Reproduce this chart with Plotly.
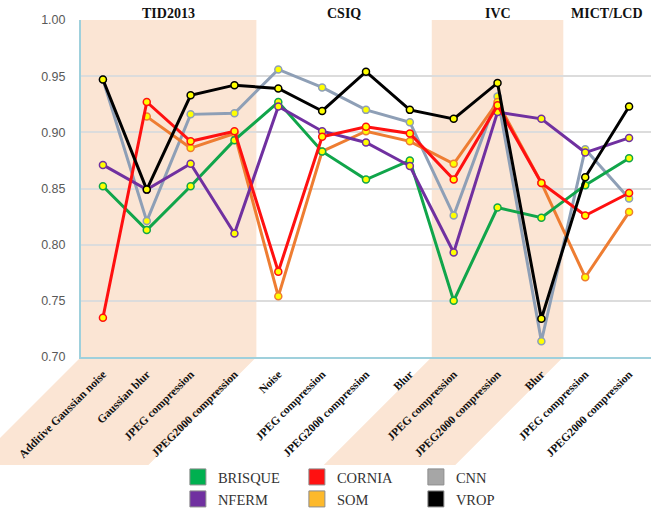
import plotly.graph_objects as go

categories = ["Additive Gaussian noise", "Gaussian blur", "JPEG compression", "JPEG2000 compression",
              "Noise", "JPEG compression", "JPEG2000 compression", "Blur",
              "JPEG compression", "JPEG2000 compression", "Blur",
              "JPEG compression", "JPEG2000 compression"]
group_names = ["TID2013", "CSIQ", "IVC", "MICT/LCD"]
group_sizes = [4, 4, 3, 2]
shaded_groups = [0, 2]

brisque = [0.852, 0.813, 0.852, 0.893, 0.927, 0.883, 0.858, 0.875, 0.750, 0.833, 0.824, 0.853, 0.877]
nferm = [0.871, 0.849, 0.872, 0.810, 0.923, 0.901, 0.891, 0.870, 0.793, 0.918, 0.912, 0.882, 0.895]
cornia = [0.735, 0.927, 0.892, 0.901, 0.776, 0.896, 0.905, 0.899, 0.858, 0.924, 0.855, 0.826, 0.846]
som = [None, 0.914, 0.886, 0.899, 0.754, 0.883, 0.901, 0.892, 0.872, 0.927, 0.855, 0.771, 0.829]
cnn = [0.947, 0.821, 0.916, 0.917, 0.956, 0.940, 0.920, 0.909, 0.826, 0.932, 0.714, 0.885, 0.841]
vrop = [0.947, 0.849, 0.933, 0.942, 0.939, 0.919, 0.954, 0.920, 0.912, 0.944, 0.734, 0.860, 0.923]

y_ticks = [0.70, 0.75, 0.80, 0.85, 0.90, 0.95, 1.00]

x = list(range(len(categories)))

# name, values, line colour, legend colour, legend row, legend rank
series = [
    ("CNN", cnn, "#8e9fb6", "#a6a6a6", "legend", 3),
    ("SOM", som, "#ee7d32", "#fdb92b", "legend2", 2),
    ("BRISQUE", brisque, "#10a54a", "#00b050", "legend", 1),
    ("NFERM", nferm, "#7030a0", "#7030a0", "legend2", 1),
    ("CORNIA", cornia, "#ff1010", "#ff1111", "legend", 2),
    ("VROP", vrop, "#000000", "#000000", "legend2", 3),
]

fig = go.Figure()
for name, vals, lc, legc, leg, rank in series:
    fig.add_trace(go.Scatter(
        x=x, y=vals, mode="lines+markers", name=name, showlegend=False,
        line=dict(color=lc, width=3),
        marker=dict(size=7, color="#ffff00", line=dict(color=lc, width=1.5)),
        connectgaps=False, hoverinfo="skip",
    ))
for name, vals, lc, legc, leg, rank in series:
    fig.add_trace(go.Scatter(
        x=[None], y=[None], mode="markers", name=name, legend=leg, legendrank=rank,
        marker=dict(symbol="square", size=16, color=legc, line=dict(color="#8c8c8c", width=1)),
        hoverinfo="skip",
    ))

n = len(categories)
band_color = "#fbe5d4"
dx_px = 108.0
plot_w = 570.0
plot_h = 337.0
sx = dx_px / plot_w
sy = dx_px / plot_h
shapes = []
annotations = []
start = 0
for gi, (gname, size) in enumerate(zip(group_names, group_sizes)):
    x0 = start / n
    x1 = (start + size) / n
    center = start + (size - 1) / 2
    if gi in shaded_groups:
        path = (f"M {x0},1 L {x1},1 L {x1},0 L {x1 - sx},{-sy} "
                f"L {x0 - sx},{-sy} L {x0},0 Z")
        shapes.append(dict(type="path", path=path, xref="paper", yref="paper",
                           fillcolor=band_color, line=dict(width=0), layer="below"))
    annotations.append(dict(x=center, y=1, xref="x", yref="paper", text=f"<b>{gname}</b>",
                            showarrow=False, yanchor="bottom", yshift=-3,
                            font=dict(family="Liberation Serif", size=14, color="#111111")))
    start += size

legend_common = dict(orientation="h", x=0.170, xref="paper", yref="container",
                     xanchor="left", yanchor="middle",
                     entrywidth=74, entrywidthmode="pixels", itemsizing="trace",
                     font=dict(family="Liberation Serif", size=14.5, color="#333333"),
                     bgcolor="rgba(0,0,0,0)", tracegroupgap=0)

fig.update_layout(
    width=658, height=513,
    margin=dict(l=81, r=7, t=20, b=156),
    paper_bgcolor="white", plot_bgcolor="rgba(0,0,0,0)",
    shapes=shapes, annotations=annotations,
    showlegend=True,
    legend=dict(legend_common, y=1 - 477 / 513),
    legend2=dict(legend_common, y=1 - 499 / 513),
    xaxis=dict(range=[-0.5, n - 0.5], tickmode="array", tickvals=x,
               ticktext=[f"<b>{c}</b>" for c in categories],
               tickangle=-45, showgrid=False, zeroline=False, automargin=False,
               showline=True, linecolor="#9fd0dc", linewidth=2,
               ticks="outside", ticklen=4, tickcolor="rgba(0,0,0,0)",
               tickfont=dict(family="Liberation Serif", size=11.5, color="#111111")),
    yaxis=dict(range=[0.70, 1.00], tickmode="array", tickvals=y_ticks,
               ticktext=[f"{v:.2f}" for v in y_ticks], automargin=False,
               showgrid=True, gridcolor="#dcdcdc", gridwidth=1.5, zeroline=False,
               showline=True, linecolor="#9fd0dc", linewidth=2,
               ticks="outside", ticklen=11, tickcolor="rgba(0,0,0,0)",
               tickfont=dict(family="Liberation Sans", size=12.5, color="#595959")),
)

# remove the browser's default 8px page margin so the figure fills the window
fig.write_html("out.html", config={"displayModeBar": False},
               post_script="document.body.style.margin='0px';")
